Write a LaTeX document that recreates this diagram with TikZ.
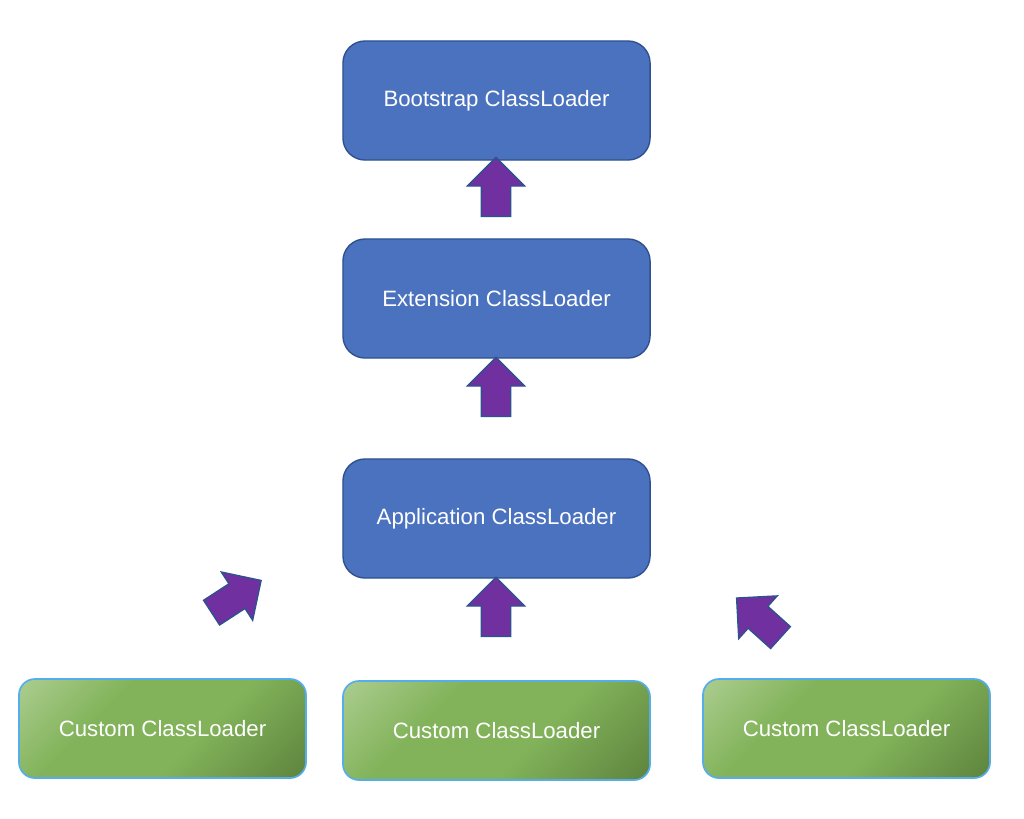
\documentclass[tikz,border=0pt]{standalone}
\usepackage{fontspec}
\setmainfont{Liberation Sans}
\usetikzlibrary{shapes.arrows}
\definecolor{LoaderBlue}{HTML}{4A72BF}
\definecolor{LoaderEdge}{HTML}{2F528F}
\definecolor{ArrowPurple}{HTML}{7030A0}
\definecolor{GreenLight}{HTML}{C8DEB4}
\definecolor{GreenMid}{HTML}{82B35A}
\definecolor{GreenDark}{HTML}{4A6A2E}
\definecolor{CustomEdge}{HTML}{55AEEA}
\pgfdeclarehorizontalshading{customgreen}{100bp}{color(0bp)=(GreenLight); color(36bp)=(GreenMid); color(58bp)=(GreenMid); color(100bp)=(GreenDark)}

\begin{document}
\begin{tikzpicture}[x=0.025cm, y=-0.025cm,
    loader/.style={draw=LoaderEdge, fill=LoaderBlue, line width=1pt, rounded corners=0.55cm,
      minimum width=7.675cm, minimum height=2.975cm, inner sep=0pt, text=white,
      font=\fontsize{15.8}{18}\selectfont},
    custom/.style={draw=CustomEdge, shading=customgreen, shading angle=-45, line width=1.2pt,
      rounded corners=0.4cm, minimum height=2.475cm, inner sep=0pt, text=white,
      font=\fontsize{15.8}{18}\selectfont},
    upward/.style={single arrow, draw=LoaderEdge, fill=ArrowPurple, line width=1pt,
      minimum height=1.475cm, minimum width=1.4cm, single arrow head extend=0.35cm,
      inner xsep=0pt, inner ysep=0.35cm, anchor=tail}]
    \useasboundingbox (0,0) rectangle (1024,818);

    % Klassenlader-Hierarchie
    \node[loader] (boot) at (496.5,100.5) {Bootstrap ClassLoader};
    \node[loader] (ext) at (496.5,298.5) {Extension ClassLoader};
    \node[loader] (app) at (496.5,518.5) {Application ClassLoader};

    % eigene Lader unten
    \node[custom, minimum width=7.175cm] (custA) at (162.5,728.5) {Custom ClassLoader};
    \node[custom, minimum width=7.675cm] (custB) at (496.5,730.5) {Custom ClassLoader};
    \node[custom, minimum width=7.175cm] (custC) at (846.5,728.5) {Custom ClassLoader};

    % Blockpfeile nach oben (Fusspunkt angegeben)
    \node[upward, rotate=90] (extup) at (496,217) {};
    \node[upward, rotate=90] (appup) at (496,417) {};
    \node[upward, rotate=90] (custBup) at (496,637) {};
    \node[upward, rotate=33] (custAup) at (211,613) {};
    \node[upward, rotate=138] (custCup) at (781,638) {};
\end{tikzpicture}
\end{document}
